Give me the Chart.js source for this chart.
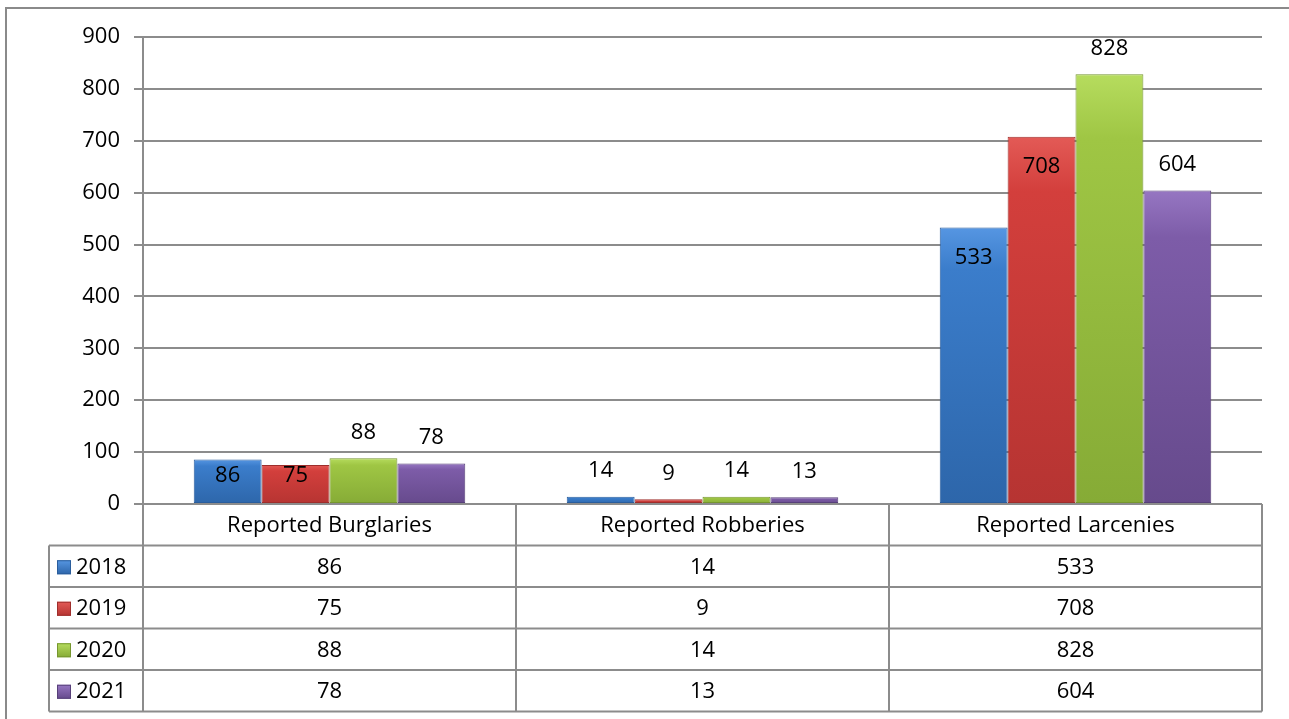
<!DOCTYPE html>
<html>
<head>
<meta charset="utf-8">
<script src="https://cdn.jsdelivr.net/npm/chart.js@4.4.1/dist/chart.umd.min.js"></script>
<style>
  html, body { margin: 0; padding: 0; background: #ffffff; }
  #wrap { position: relative; width: 1289px; height: 719px; }
</style>
</head>
<body>
<div id="wrap"><canvas id="c" width="1289" height="719"></canvas></div>
<script>
// ---- data ----
const categories = ["Reported Burglaries", "Reported Robberies", "Reported Larcenies"];
const seriesNames = ["2018", "2019", "2020", "2021"];
const values2018 = [86, 14, 533];
const values2019 = [75, 9, 708];
const values2020 = [88, 14, 828];
const values2021 = [78, 13, 604];
const yTicks = [0, 100, 200, 300, 400, 500, 600, 700, 800, 900];

// ---- styles ----
const FONT = "'Open Sans', Lato, 'DejaVu Sans', sans-serif";
const FS = 22;
const palette = [
  { top: "#5696e2", mid: "#3b7dcb", bot: "#2d66aa", edge: "#2a5d9c" },
  { top: "#e35a56", mid: "#d33f3c", bot: "#b63432", edge: "#9e2e2c" },
  { top: "#b6dc5e", mid: "#9fc644", bot: "#86ab36", edge: "#76962f" },
  { top: "#9676c2", mid: "#7d5ca8", bot: "#664a8c", edge: "#574079" }
];
// label placement per dataset/category: 'in' or 'out'
const labelPlacement = [
  ["in", "out", "in"],
  ["in", "out", "in"],
  ["out", "out", "out"],
  ["out", "out", "out"]
];
const GRID = "#8c8c8c";
const ROW_H = 41.5;
const TABLE_LEFT = 49;

const allSeries = [values2018, values2019, values2020, values2021];

function barGradient(ctx, i) {
  const chart = ctx.chart;
  const ca = chart.chartArea;
  if (!ca || ctx.type !== "data") return palette[i].mid;
  const y = chart.scales.y;
  const topPx = y.getPixelForValue(ctx.raw);
  const botPx = y.getPixelForValue(0);
  const g = chart.ctx.createLinearGradient(0, topPx, 0, Math.max(botPx, topPx + 1));
  g.addColorStop(0, palette[i].top);
  g.addColorStop(0.15, palette[i].mid);
  g.addColorStop(1, palette[i].bot);
  return g;
}

const datasets = seriesNames.map((name, i) => ({
  label: name,
  data: allSeries[i],
  backgroundColor: (ctx) => barGradient(ctx, i),
  borderColor: palette[i].edge,
  borderWidth: 1,
  borderSkipped: false,
  categoryPercentage: 0.728,
  barPercentage: 1.0
}));

const framePlugin = {
  id: "frame",
  beforeDraw(chart) {
    const c = chart.ctx;
    c.save();
    c.strokeStyle = "#8a8a8a";
    c.lineWidth = 2;
    c.beginPath();
    c.moveTo(6, 719);
    c.lineTo(6, 8);
    c.lineTo(1289, 8);
    c.stroke();
    c.restore();
  }
};

const labelPlugin = {
  id: "barLabels",
  afterDatasetsDraw(chart) {
    const c = chart.ctx;
    c.save();
    c.font = FS + "px " + FONT;
    c.fillStyle = "#000";
    c.textAlign = "center";
    c.textBaseline = "middle";
    chart.data.datasets.forEach((ds, di) => {
      const meta = chart.getDatasetMeta(di);
      meta.data.forEach((bar, idx) => {
        const v = ds.data[idx];
        const base = bar.base;
        let y;
        if (labelPlacement[di][idx] === "in") {
          y = Math.min(bar.y + 30, base - 27);
        } else {
          y = bar.y - 26;
        }
        c.fillText(String(v), bar.x, y);
      });
    });
    c.restore();
  }
};

const tablePlugin = {
  id: "dataTable",
  afterDraw(chart) {
    const c = chart.ctx;
    const xs = chart.scales.x;
    const ys = chart.scales.y;
    const left = xs.left, right = xs.right;
    const colW = (right - left) / categories.length;
    const top = ys.getPixelForValue(0);
    const catBottom = top + ROW_H;
    const rows = seriesNames.length;
    const bottom = catBottom + rows * ROW_H;
    c.save();
    c.strokeStyle = GRID;
    c.lineWidth = 2;
    c.beginPath();
    for (let r = 0; r <= rows; r++) {
      const y = catBottom + r * ROW_H;
      c.moveTo(TABLE_LEFT, y);
      c.lineTo(right, y);
    }
    for (let k = 0; k <= categories.length; k++) {
      const x = left + k * colW;
      c.moveTo(x, top);
      c.lineTo(x, bottom);
    }
    c.moveTo(TABLE_LEFT, catBottom);
    c.lineTo(TABLE_LEFT, bottom);
    c.stroke();

    c.fillStyle = "#000";
    c.font = FS + "px " + FONT;
    c.textBaseline = "middle";
    c.textAlign = "center";
    categories.forEach((cat, k) => {
      c.fillText(cat, left + (k + 0.5) * colW, top + ROW_H / 2 + 1);
    });
    seriesNames.forEach((name, r) => {
      const yc = catBottom + (r + 0.5) * ROW_H + 1;
      categories.forEach((cat, k) => {
        c.textAlign = "center";
        c.fillStyle = "#000";
        c.fillText(String(allSeries[r][k]), left + (k + 0.5) * colW, yc);
      });
      const sx = TABLE_LEFT + 8, sy = yc - 7, s = 14;
      const g = c.createLinearGradient(0, sy, 0, sy + s);
      g.addColorStop(0, palette[r].top);
      g.addColorStop(1, palette[r].bot);
      c.fillStyle = g;
      c.fillRect(sx, sy, s, s);
      c.strokeStyle = palette[r].edge;
      c.lineWidth = 1;
      c.strokeRect(sx + 0.5, sy + 0.5, s - 1, s - 1);
      c.fillStyle = "#000";
      c.textAlign = "left";
      c.fillText(name, sx + s + 5, yc);
    });
    c.restore();
  }
};

new Chart(document.getElementById("c"), {
  type: "bar",
  data: { labels: categories, datasets },
  plugins: [framePlugin, labelPlugin, tablePlugin],
  options: {
    responsive: false,
    animation: false,
    events: [],
    layout: { padding: { left: 0, right: 27, top: 37, bottom: 215 } },
    plugins: {
      legend: { display: false },
      title: { display: false },
      tooltip: { enabled: false }
    },
    scales: {
      x: {
        display: false
      },
      y: {
        min: 0,
        max: 900,
        afterBuildTicks(scale) { scale.ticks = yTicks.map(v => ({ value: v })); },
        afterFit(scale) { scale.width = 143; },
        ticks: {
          color: "#000",
          font: { size: FS, family: FONT },
          padding: 14
        },
        grid: { color: GRID, lineWidth: 2, tickLength: 9 },
        border: { display: true, color: GRID, width: 2 }
      }
    }
  }
});
</script>
</body>
</html>
